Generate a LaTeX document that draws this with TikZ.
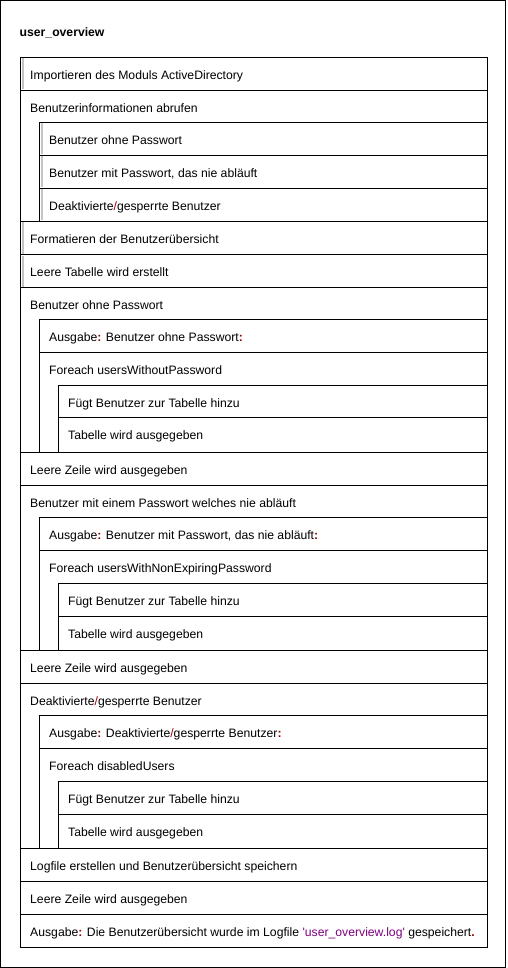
\documentclass[tikz,border=0pt]{standalone}
\usepackage{fontspec}
\setmainfont{Liberation Sans}[Ligatures=TeXOff]
\definecolor{kwc}{HTML}{990000}
\definecolor{strc}{HTML}{800080}
\definecolor{barc}{HTML}{C4C4C4}
\newcommand\kc[1]{\textcolor{kwc}{\bfseries #1}}
\newcommand\ks[1]{\textcolor{kwc}{#1}}
\newcommand\nsrow[5]{%
  \draw[nsline] ({#2+0.5},{#3+0.5}) rectangle (487.5,{#4+0.5});
  \node[nstext] (#1) at ({#2+10},{#3+22.3}) {#5};}
\newcommand\nsbar[3]{%
  \fill[barc] ({#1+1.5},{#2+1.5}) rectangle ({#1+3.5},{#3-0.5});}
\begin{document}
\begin{tikzpicture}[x=1pt,y=-1pt,
  nsline/.style={line width=1pt,draw=black},
  nstext/.style={anchor=base west,inner sep=0pt,font=\fontsize{12.2pt}{14pt}\selectfont}]
\useasboundingbox (0,0) rectangle (508,968);
\draw[nsline] (0.5,0.5) rectangle (505.5,967.5);
\node[anchor=base west,inner sep=0pt,font=\fontsize{12.2pt}{14pt}\selectfont\bfseries] (title) at (19.5,36.5) {user\_overview};
% level 1 and containers
\nsrow{imp}{20}{57}{90}{Importieren des Moduls ActiveDirectory}
\nsbar{20}{57}{90}
\nsrow{info}{20}{90}{221}{Benutzerinformationen abrufen}
\nsrow{info1}{39}{122}{155}{Benutzer ohne Passwort}
\nsbar{39}{122}{155}
\nsrow{info2}{39}{155}{188}{Benutzer mit Passwort, das nie abläuft}
\nsbar{39}{155}{188}
\nsrow{info3}{39}{188}{221}{Deaktivierte\ks{/}gesperrte Benutzer}
\nsbar{39}{188}{221}
\nsrow{fmt}{20}{221}{254}{Formatieren der Benutzerübersicht}
\nsbar{20}{221}{254}
\nsrow{tab}{20}{254}{287}{Leere Tabelle wird erstellt}
\nsbar{20}{254}{287}
% section 1
\nsrow{sec1}{20}{287}{452}{Benutzer ohne Passwort}
\nsrow{out1}{39}{319}{352}{Ausgabe\kc{:} Benutzer ohne Passwort\kc{:}}
\nsrow{loop1}{39}{352}{452}{Foreach usersWithoutPassword}
\nsrow{add1}{58}{385}{417}{Fügt Benutzer zur Tabelle hinzu}
\nsrow{print1}{58}{417}{452}{Tabelle wird ausgegeben}
\nsrow{empty1}{20}{452}{485}{Leere Zeile wird ausgegeben}
% section 2
\nsrow{sec2}{20}{485}{650}{Benutzer mit einem Passwort welches nie abläuft}
\nsrow{out2}{39}{517}{550}{Ausgabe\kc{:} Benutzer mit Passwort, das nie abläuft\kc{:}}
\nsrow{loop2}{39}{550}{650}{Foreach usersWithNonExpiringPassword}
\nsrow{add2}{58}{583}{616}{Fügt Benutzer zur Tabelle hinzu}
\nsrow{print2}{58}{616}{650}{Tabelle wird ausgegeben}
\nsrow{empty2}{20}{650}{683}{Leere Zeile wird ausgegeben}
% section 3
\nsrow{sec3}{20}{683}{848}{Deaktivierte\ks{/}gesperrte Benutzer}
\nsrow{out3}{39}{715}{748}{Ausgabe\kc{:} Deaktivierte\ks{/}gesperrte Benutzer\kc{:}}
\nsrow{loop3}{39}{748}{848}{Foreach disabledUsers}
\nsrow{add3}{58}{781}{814}{Fügt Benutzer zur Tabelle hinzu}
\nsrow{print3}{58}{814}{848}{Tabelle wird ausgegeben}
% end
\nsrow{log}{20}{848}{881}{Logfile erstellen und Benutzerübersicht speichern}
\nsrow{empty3}{20}{881}{914}{Leere Zeile wird ausgegeben}
\nsrow{final}{20}{914}{947}{Ausgabe\kc{:} Die Benutzerübersicht wurde im Logfile \textcolor{strc}{'user\_overview.log'} gespeichert\kc{.}}
\end{tikzpicture}
\end{document}
